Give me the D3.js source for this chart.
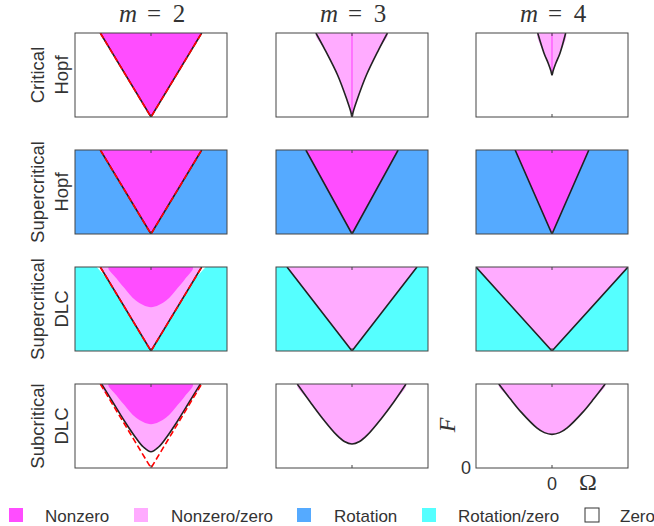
<!DOCTYPE html>
<html>
<head>
<meta charset="utf-8">
<script src="https://cdn.jsdelivr.net/npm/d3@7"></script>
<style>
  body { margin: 0; background: #fff; }
  text { fill: #333; }
</style>
</head>
<body>
<div id="chart"></div>
<script>
// ---------- DATA (Omega in [-1,1], F in [0,1]) ----------
var mValues = ["2", "3", "4"];
var rowLabels = [["Critical", "Hopf"], ["Supercritical", "Hopf"], ["Supercritical", "DLC"], ["Subcritical", "DLC"]];
var rowBackground = ["Zero", "Rotation", "Rotation/zero", "Zero"];
var legendLabels = ["Nonzero", "Nonzero/zero", "Rotation", "Rotation/zero", "Zero"];

// half-width of the V at F = 1 (row x column), null = no V
var vTop = [[0.667, null, null], [0.667, 0.607, 0.485], [0.667, 0.855, 1.0], [null, null, null]];
// fill inside the V
var vFill = [["Nonzero", null, null], ["Nonzero", "Nonzero", "Nonzero"], ["Nonzero/zero", "Nonzero/zero", "Nonzero/zero"], [null, null, null]];
// red dashed V (m = 2 column)
var redV = [0.667, 0.667, 0.667, 0.667];

// critical Hopf cusps
var cuspM3 = [[-0.475, 1], [-0.355, 0.8], [-0.19, 0.5], [-0.065, 0.2], [-0.015, 0.06], [0, 0], [0.015, 0.06], [0.065, 0.2], [0.19, 0.5], [0.35, 0.8], [0.466, 1]];
var cuspM4 = [[-0.188, 1], [-0.105, 0.76], [-0.05, 0.64], [-0.015, 0.55], [0, 0.5], [0.015, 0.55], [0.05, 0.64], [0.105, 0.76], [0.18, 1]];
var cuspLine = [[0, 1], [0, 0.5]];
var cuspLineM3 = [[0, 1], [0, 0]];

// inner nonzero region (DLC, m = 2)
var innerNonzero = [[-0.56, 1], [-0.45, 0.86], [-0.35, 0.75], [-0.2, 0.6], [0, 0.52], [0.2, 0.6], [0.35, 0.75], [0.45, 0.86], [0.55, 1]];
// white sliver above the V (supercritical DLC, m = 2)
var whiteGap = [[0, 0], [-0.567, 0.85], [-0.715, 1], [0.72, 1], [0.567, 0.85]];

// subcritical DLC boundaries
var subM2 = [[-0.65, 1], [-0.5, 0.78], [-0.35, 0.56], [-0.2, 0.36], [-0.1, 0.25], [0, 0.194], [0.1, 0.25], [0.2, 0.36], [0.35, 0.56], [0.5, 0.78], [0.65, 1]];
var subM3 = [[-0.72, 1], [-0.55, 0.786], [-0.4, 0.605], [-0.2, 0.391], [-0.1, 0.316], [0, 0.286], [0.1, 0.316], [0.2, 0.391], [0.4, 0.605], [0.55, 0.786], [0.71, 1]];
var subM4 = [[-0.7, 1], [-0.55, 0.824], [-0.4, 0.659], [-0.2, 0.478], [-0.1, 0.421], [0, 0.4], [0.1, 0.421], [0.2, 0.478], [0.4, 0.659], [0.55, 0.824], [0.7, 1]];

// ---------- FORMAT ----------
var W = 654, H = 526;
var colX = [75, 276, 476];
var rowY = [33, 150, 267, 384];
var pw = 152, ph = 84;
var fontF = "'Liberation Sans', Arial, sans-serif";
var serif = "'Liberation Serif', 'Times New Roman', serif";
var colors = {
  "Nonzero": "#ff4dff",
  "Nonzero/zero": "#ffabff",
  "Rotation": "#55aaff",
  "Rotation/zero": "#55ffff",
  "Zero": "#ffffff"
};
var sw = 1.6;

var svg = d3.select("#chart").append("svg")
  .attr("width", W)
  .attr("height", H);

var x = d3.scaleLinear().domain([-1, 1]).range([0, pw]);
var y = d3.scaleLinear().domain([0, 1]).range([ph, 0]);

var curve = d3.line().x(function(d){ return x(d[0]); }).y(function(d){ return y(d[1]); }).curve(d3.curveCatmullRom);
var closedCurve = d3.line().x(function(d){ return x(d[0]); }).y(function(d){ return y(d[1]); }).curve(d3.curveCatmullRomClosed);
var poly = d3.line().x(function(d){ return x(d[0]); }).y(function(d){ return y(d[1]); });

function vPoints(t){ return [[-t, 1], [0, 0], [t, 1]]; }

// ---------- PANELS ----------
rowLabels.forEach(function(lab, r){
  mValues.forEach(function(m, c){
    var id = "clip" + r + c;
    svg.append("clipPath").attr("id", id)
      .append("rect").attr("width", pw).attr("height", ph);

    var g = svg.append("g").attr("transform", "translate(" + colX[c] + "," + rowY[r] + ")");
    var p = g.append("g").attr("clip-path", "url(#" + id + ")");

    // background
    p.append("rect").attr("width", pw).attr("height", ph).style("fill", colors[rowBackground[r]]);

    if (r == 2 && c == 0) {
      p.append("path").attr("d", poly(whiteGap) + "Z").style("fill", "#fff");
    }

    // V region
    if (vTop[r][c] != null) {
      p.append("path").attr("d", poly(vPoints(vTop[r][c])) + "Z").style("fill", colors[vFill[r][c]]);
    }

    // critical Hopf cusps
    if (r == 0 && c == 1) {
      p.append("path").attr("d", closedCurve(cuspM3)).style("fill", colors["Nonzero/zero"]);
      p.append("path").attr("d", poly(cuspLineM3)).style("stroke", colors["Nonzero"]).style("stroke-width", 1.2).style("fill", "none");
      p.append("path").attr("d", curve(cuspM3)).style("stroke", "#222").style("stroke-width", sw).style("fill", "none");
    }
    if (r == 0 && c == 2) {
      p.append("path").attr("d", closedCurve(cuspM4)).style("fill", colors["Nonzero/zero"]);
      p.append("path").attr("d", poly(cuspLine)).style("stroke", colors["Nonzero"]).style("stroke-width", 1.2).style("fill", "none");
      p.append("path").attr("d", curve(cuspM4)).style("stroke", "#222").style("stroke-width", sw).style("fill", "none");
    }

    // subcritical regions
    if (r == 3) {
      var sub = [subM2, subM3, subM4][c];
      p.append("path").attr("d", closedCurve(sub)).style("fill", colors["Nonzero/zero"]);
    }

    // inner nonzero (DLC, m = 2)
    if ((r == 2 || r == 3) && c == 0) {
      p.append("path").attr("d", closedCurve(innerNonzero)).style("fill", colors["Nonzero"]);
    }

    // black boundary lines
    if (vTop[r][c] != null) {
      p.append("path").attr("d", poly(vPoints(vTop[r][c])))
        .style("stroke", "#222").style("stroke-width", sw).style("fill", "none");
    }
    if (r == 3) {
      p.append("path").attr("d", curve([subM2, subM3, subM4][c]))
        .style("stroke", "#222").style("stroke-width", sw).style("fill", "none");
    }

    // red dashed V
    if (c == 0) {
      p.append("path").attr("d", poly(vPoints(redV[r])))
        .style("stroke", "#ff0000").style("stroke-width", 1.6)
        .style("stroke-dasharray", "6,3").style("fill", "none");
    }

    // box + ticks
    g.append("rect").attr("width", pw).attr("height", ph)
      .style("fill", "none").style("stroke", "#444").style("stroke-width", 1);
    g.append("line").attr("x1", x(0)).attr("x2", x(0)).attr("y1", 0).attr("y2", 3)
      .style("stroke", "#444").style("stroke-width", 1);
    g.append("line").attr("x1", x(0)).attr("x2", x(0)).attr("y1", ph).attr("y2", ph - 3)
      .style("stroke", "#444").style("stroke-width", 1);
  });
});

// ---------- TITLES ----------
mValues.forEach(function(m, c){
  var cx = colX[c] + pw / 2;
  var t = svg.append("g").attr("transform", "translate(" + cx + ",22)")
    .style("font-family", serif).style("font-size", "25px");
  t.append("text").attr("x", -23).attr("text-anchor", "middle").style("font-style", "italic").text("m");
  t.append("text").attr("x", 3).attr("text-anchor", "middle").text("=");
  t.append("text").attr("x", 28).attr("text-anchor", "middle").text(m);
});

// ---------- ROW LABELS ----------
rowLabels.forEach(function(lab, r){
  var cy = rowY[r] + ph / 2;
  lab.forEach(function(s, i){
    svg.append("text")
      .attr("transform", "translate(" + (43.5 + i * 24) + "," + cy + ") rotate(-90)")
      .attr("text-anchor", "middle")
      .style("font-family", fontF).style("font-size", "18.5px")
      .text(s);
  });
});

// ---------- AXIS LABELS (last panel) ----------
var lx = colX[2], ly = rowY[3];
svg.append("text").attr("x", lx - 5).attr("y", ly + ph + 6)
  .attr("text-anchor", "end").style("font-family", fontF).style("font-size", "18px").text("0");
svg.append("text").attr("x", lx + x(0)).attr("y", ly + ph + 22)
  .attr("text-anchor", "middle").style("font-family", fontF).style("font-size", "18px").text("0");
svg.append("text").attr("x", lx + x(0) + 36).attr("y", ly + ph + 22)
  .attr("text-anchor", "middle").style("font-family", serif).style("font-size", "24px").text("Ω");
svg.append("text").attr("transform", "translate(" + (lx - 21) + "," + (ly + 41) + ") rotate(-90)")
  .attr("text-anchor", "middle").style("font-family", serif).style("font-style", "italic").style("font-size", "24px").text("F");

// ---------- LEGEND ----------
var legX = [9, 134, 297, 422, 585];
var legTextX = [45, 171, 334, 458, 620];
legendLabels.forEach(function(s, i){
  svg.append("rect").attr("x", legX[i]).attr("y", 508).attr("width", 14).attr("height", 14)
    .style("fill", colors[s])
    .style("stroke", s == "Zero" ? "#333" : "none").style("stroke-width", 1);
  svg.append("text").attr("x", legTextX[i]).attr("y", 522)
    .style("font-family", fontF).style("font-size", "17px").text(s);
});
</script>
</body>
</html>
